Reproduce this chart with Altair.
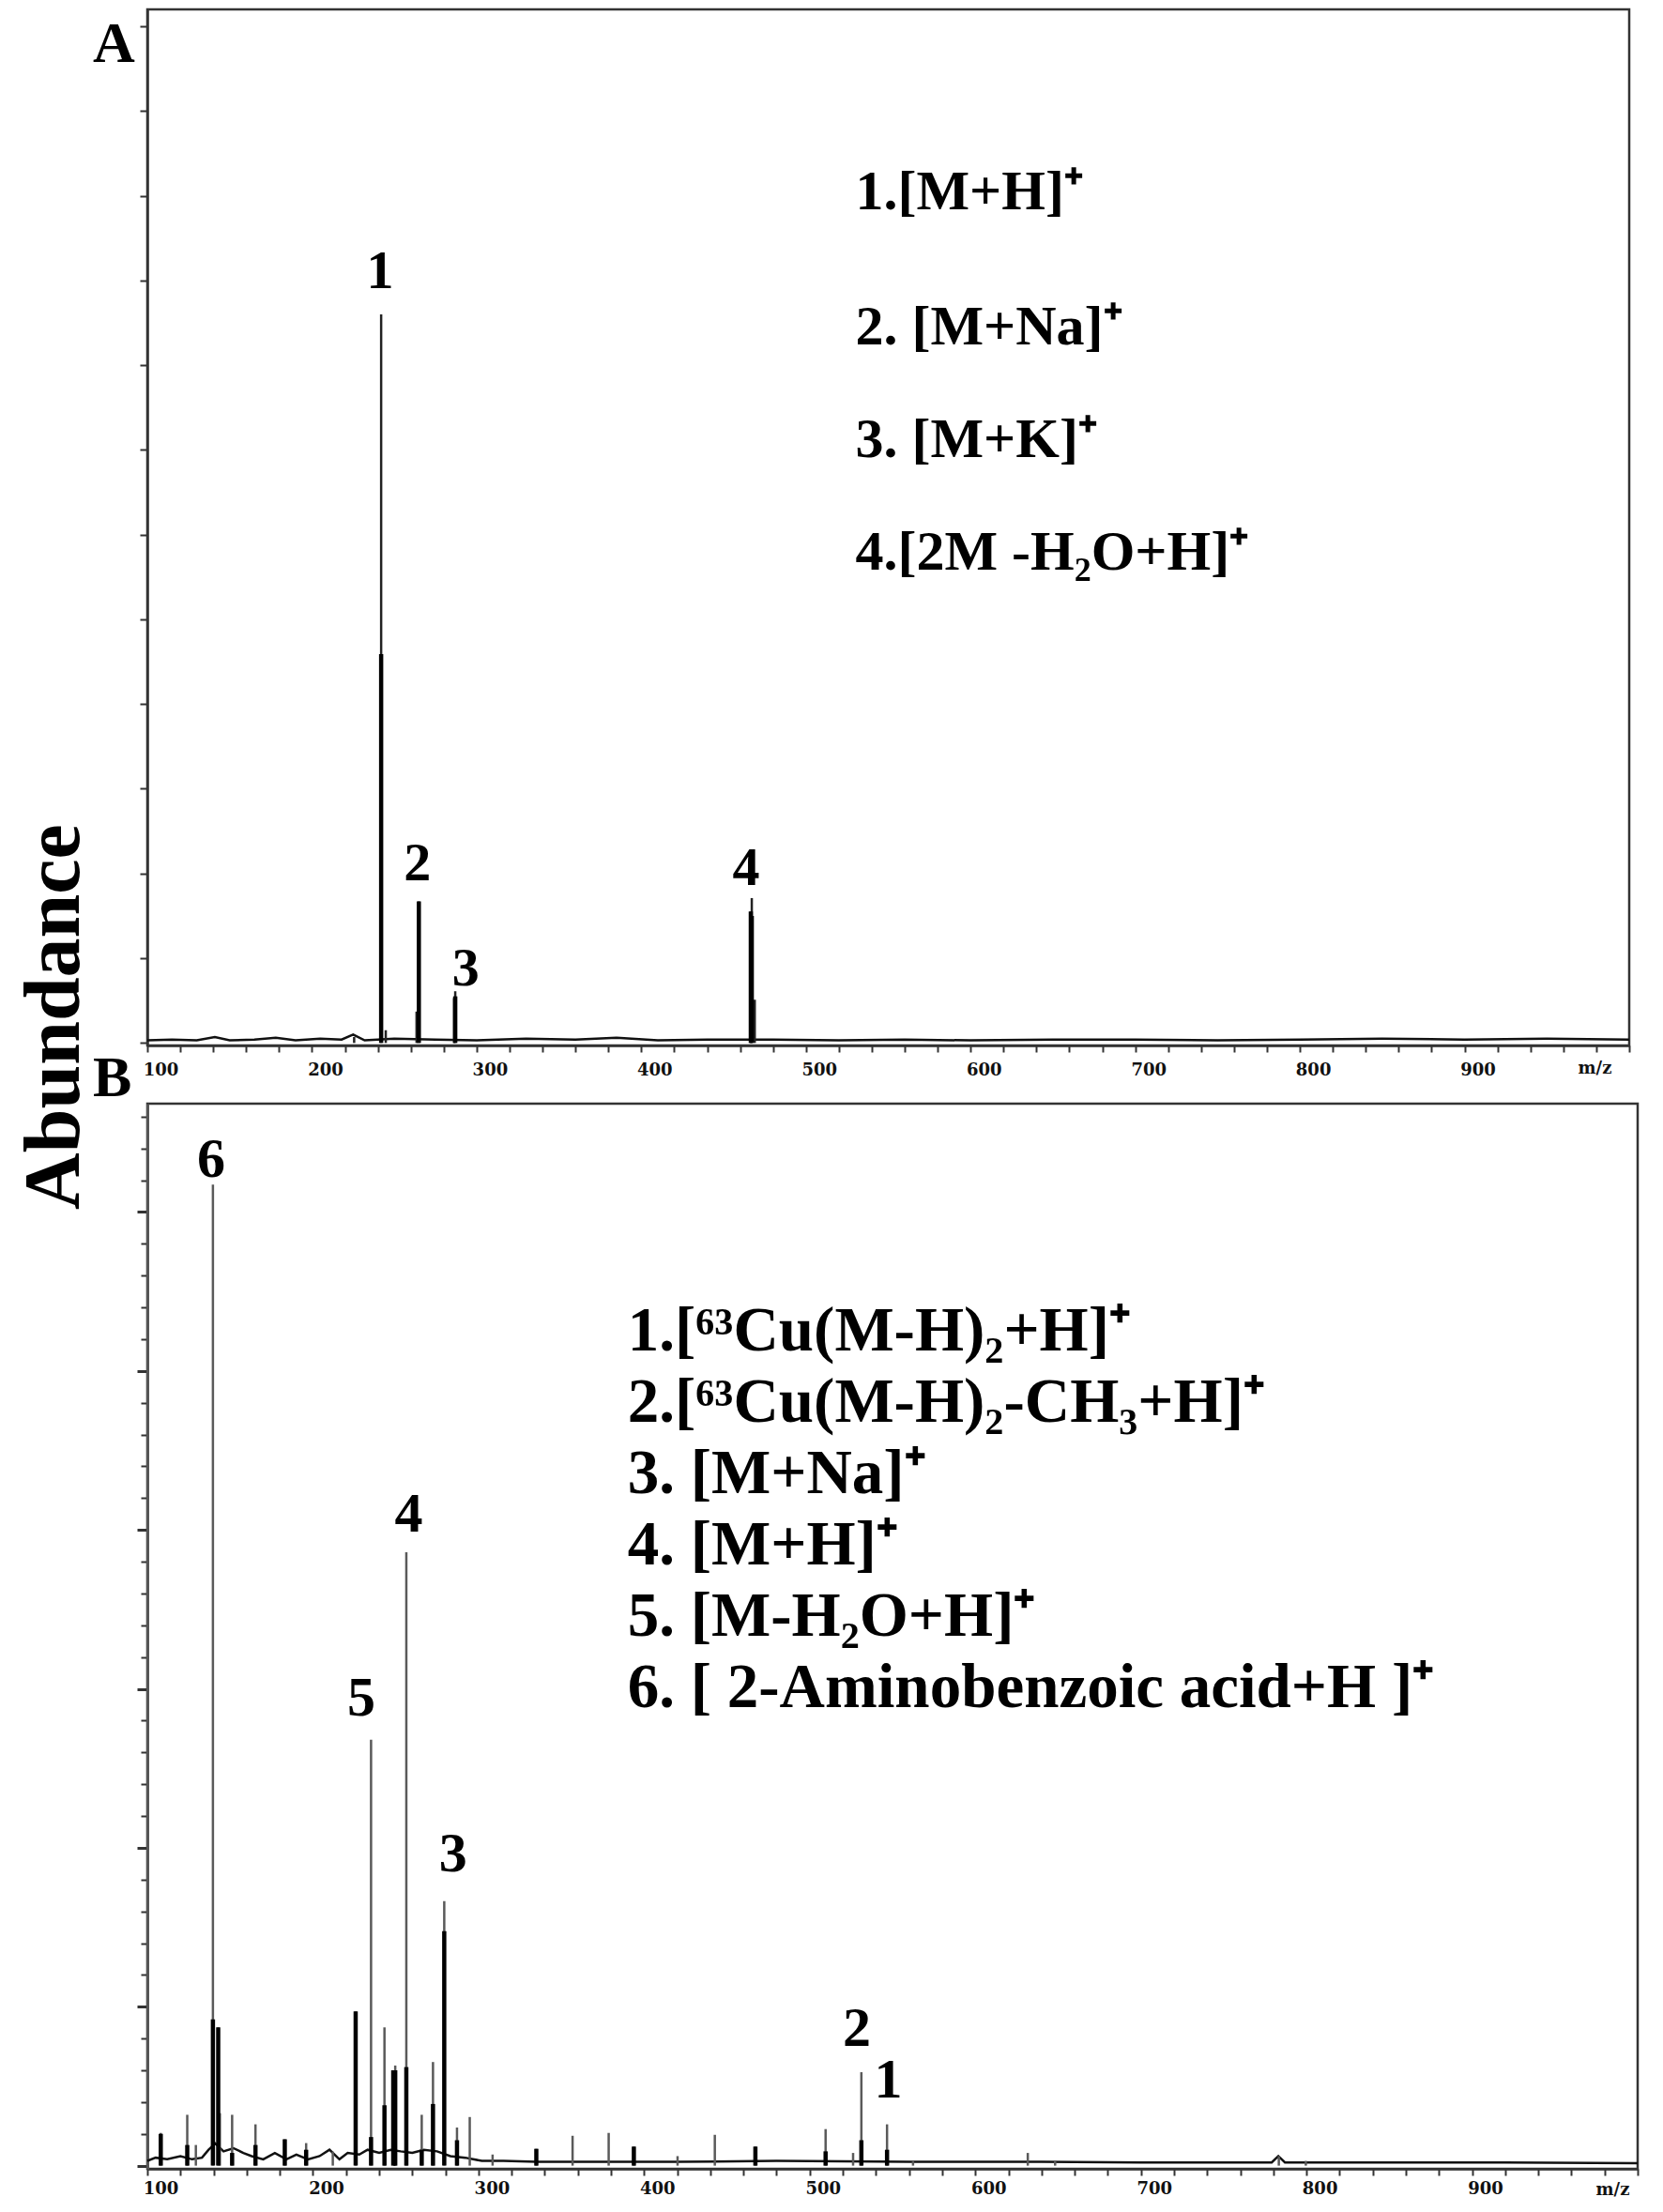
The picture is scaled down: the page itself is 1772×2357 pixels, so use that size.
import altair as alt
import pandas as pd

SERIF = "Liberation Serif"
TICKFONT = "DejaVu Serif"

# ---------------- Panel A data ----------------
a_peak_mz = [225.6, 242.0, 244.8, 263.5, 264.9, 286.3, 287.0, 466.5, 467.1, 468.9]
a_peak_ab = [0.07, 8.60, 0.15, 0.37, 1.67, 0.53, 0.61, 1.55, 1.71, 0.51]
a_core_mz = [242.0, 264.9, 287.0, 466.5, 467.1]
a_core_ab = [4.59, 1.67, 0.55, 1.55, 1.50]
a_base_mz = [100, 115, 130, 141, 150, 165, 178, 190, 205, 218, 225, 232, 250, 275, 300, 330,
             360, 385, 410, 440, 480, 520, 560, 600, 650, 700, 750, 800, 850, 900, 950, 1000]
a_base_ab = [0.03, 0.04, 0.03, 0.07, 0.03, 0.04, 0.06, 0.03, 0.05, 0.04, 0.1, 0.03, 0.05, 0.04, 0.03, 0.05,
             0.04, 0.06, 0.03, 0.04, 0.04, 0.03, 0.04, 0.03, 0.04, 0.04, 0.03, 0.04, 0.05, 0.04, 0.05, 0.04]
a_lab_text = ["1", "2", "3", "4"]
a_lab_mz = [241.4, 264.0, 293.4, 463.7]
a_lab_ab = [8.91, 1.92, 0.68, 1.86]
a_leg_text = ["1.[M+H]⁺", "2. [M+Na]⁺", "3. [M+K]⁺", "4.[2M -H₂O+H]⁺"]
a_leg_mz = [530.0, 530.0, 530.0, 530.0]
a_leg_ab = [9.84, 8.25, 6.92, 5.59]

# ---------------- Panel B data ----------------
b_peak_mz = [108.1, 124.1, 129.3, 139.6, 142.8, 143.8, 151.2, 165.3, 183.0, 195.9, 212.0, 225.8,
             235.1, 243.2, 249.7, 256.4, 265.7, 272.5, 279.3, 287.0, 294.7, 308.5, 334.9, 356.8,
             378.6, 393.8, 420.2, 442.7, 467.2, 509.6, 526.2, 531.2, 546.7, 562.4, 631.7, 648.2,
             783.3, 799.6]
b_peak_ab = [1.03, 1.6, 0.65, 30.86, 4.35, 1.65, 1.6, 1.3, 0.83, 0.71, 0.44, 4.85,
             13.4, 4.35, 3.15, 19.3, 1.6, 3.26, 8.32, 1.2, 1.53, 0.35, 0.53, 0.94,
             1.03, 0.6, 0.3, 0.97, 0.6, 1.15, 0.4, 2.94, 1.3, 0.15, 0.4, 0.15,
             0.3, 0.15]
b_core_mz = [108.1, 124.1, 139.6, 142.8, 151.2, 165.3, 183.0, 195.9, 225.8, 235.1, 243.2, 248.5,
             249.7, 256.4, 265.7, 272.5, 279.3, 287.0, 334.9, 393.8, 467.2, 509.6, 531.2, 546.7]
b_core_ab = [1.0, 0.65, 4.6, 4.35, 0.4, 0.65, 0.83, 0.5, 4.85, 0.9, 1.9, 3.0,
             3.0, 3.1, 0.5, 1.94, 7.38, 0.8, 0.53, 0.6, 0.6, 0.45, 0.8, 0.5]
b_base_mz = [100, 105, 112, 120, 127, 133, 137, 141, 146, 152, 158, 163, 170, 177, 184, 190,
             197, 204, 210, 216, 221, 228, 233, 240, 247, 253, 260, 267, 275, 283, 292, 302,
             315, 335, 370, 420, 480, 560, 640, 700, 760, 779, 783, 787, 850, 920, 1000]
b_base_ab = [0.15, 0.25, 0.2, 0.3, 0.2, 0.25, 0.5, 0.7, 0.45, 0.55, 0.4, 0.3, 0.2, 0.4, 0.2, 0.35,
             0.2, 0.3, 0.5, 0.2, 0.4, 0.35, 0.5, 0.4, 0.5, 0.45, 0.4, 0.5, 0.45, 0.3, 0.25, 0.15,
             0.15, 0.12, 0.12, 0.12, 0.15, 0.12, 0.12, 0.1, 0.1, 0.1, 0.3, 0.1, 0.1, 0.1, 0.08]
b_lab_text = ["6", "5", "4", "3", "2", "1"]
b_lab_mz = [138.5, 229.2, 257.8, 284.6, 528.4, 547.4]
b_lab_ab = [31.1, 14.16, 19.94, 9.26, 3.78, 2.15]
b_leg_text = ["1.[⁶³Cu(M-H)₂+H]⁺", "2.[⁶³Cu(M-H)₂-CH₃+H]⁺", "3. [M+Na]⁺", "4. [M+H]⁺",
              "5. [M-H₂O+H]⁺", "6. [ 2-Aminobenzoic acid+H ]⁺"]
b_leg_mz = [390.0] * 6
b_leg_ab = [25.65, 23.41, 21.17, 18.92, 16.68, 14.43]

x_ticks = list(range(100, 1001, 20))


def x_enc(title_x, title_y, label_pad):
    return alt.X(
        "mz:Q",
        scale=alt.Scale(domain=[100, 1000], nice=False, zero=False),
        axis=alt.Axis(
            values=x_ticks,
            labelExpr="datum.value % 100 === 0 && datum.value < 1000 ? datum.value : ''",
            labelFlush=False, labelOverlap=False, labelBound=False,
            labelOffset=14, labelPadding=label_pad,
            labelFont=TICKFONT, labelFontSize=18, labelFontWeight="bold", labelColor="#111",
            tickSize=7, tickWidth=2, tickColor="#333", domainColor="#333", domainWidth=2.5,
            grid=False,
            title="m/z", titleX=title_x, titleY=title_y, titleAlign="center",
            titleBaseline="alphabetic", titleFont=TICKFONT, titleFontSize=18,
            titleFontWeight="bold", titleColor="#111",
        ),
    )


def panel(peak_mz, peak_ab, core_mz, core_ab, base_mz, base_ab, lab_text, lab_mz, lab_ab,
          leg_text, leg_mz, leg_ab, letter, X, Y, width, height, thin_color, lab_size, leg_size,
          letter_y, letter_baseline):
    peaks = pd.DataFrame({"mz": peak_mz, "ab": peak_ab, "base": 0.0})
    cores = pd.DataFrame({"mz": core_mz, "ab": core_ab, "base": 0.0})
    base = pd.DataFrame({"mz": base_mz, "ab": base_ab})
    labs = pd.DataFrame({"mz": lab_mz, "ab": lab_ab, "t": lab_text})
    legs = pd.DataFrame({"mz": leg_mz, "ab": leg_ab, "t": leg_text})
    let = pd.DataFrame({"t": [letter]})

    baseline = alt.Chart(base).mark_line(color="#111", strokeWidth=2.5).encode(x=X, y=Y)
    thin = alt.Chart(peaks).mark_rule(color=thin_color, strokeWidth=2.5).encode(
        x=X, y=Y, y2="base:Q")
    thick = alt.Chart(cores).mark_rule(color="#000", strokeWidth=4.5).encode(
        x=X, y=Y, y2="base:Q")
    labels = alt.Chart(labs).mark_text(
        font=SERIF, fontSize=lab_size, fontWeight="bold", color="#000",
        align="center", baseline="alphabetic").encode(x=X, y=Y, text="t:N")
    legend = alt.Chart(legs).mark_text(
        font=SERIF, fontSize=leg_size, fontWeight="bold", color="#000",
        align="left", baseline="alphabetic").encode(x=X, y=Y, text="t:N")
    letter_mark = alt.Chart(let).mark_text(
        font=SERIF, fontSize=62, fontWeight="bold", color="#000",
        align="left", baseline=letter_baseline).encode(
        x=alt.value(-58), y=alt.value(letter_y), text="t:N")
    return alt.layer(baseline, thin, thick, labels, legend, letter_mark).properties(
        width=width, height=height,
        view=alt.ViewBackground(stroke="#333", strokeWidth=2.5))


XA = x_enc(1542, 29, 10)
YA = alt.Y(
    "ab:Q",
    scale=alt.Scale(domain=[-0.03, 12.2], nice=False, zero=False),
    axis=alt.Axis(
        values=list(range(0, 13)), labels=False, tickSize=8, tickWidth=2, tickColor="#333",
        domainColor="#333", domainWidth=2.5, grid=False,
        title="Abundance", titleX=-74, titleY=1073, titleAngle=270, titleAlign="center",
        titleBaseline="alphabetic", titleFont=SERIF, titleFontSize=84,
        titleFontWeight="bold", titleColor="#000",
    ),
)

XB = x_enc(1561, 27, 5)
YB = alt.Y(
    "ab:Q",
    scale=alt.Scale(domain=[-0.1, 33.41], nice=False, zero=False),
    axis=alt.Axis(
        values=list(range(0, 34)), labels=False,
        tickSize={"condition": {"test": "datum.value % 5 === 0", "value": 11}, "value": 7},
        tickWidth={"condition": {"test": "datum.value % 5 === 0", "value": 3}, "value": 2},
        tickColor="#333", domainColor="#555", domainWidth=3, grid=False, title=None,
    ),
)

chart_a = panel(a_peak_mz, a_peak_ab, a_core_mz, a_core_ab, a_base_mz, a_base_ab,
                a_lab_text, a_lab_mz, a_lab_ab, a_leg_text, a_leg_mz, a_leg_ab, "A",
                XA, YA, 1579, 1104, "#222", 58, 60, 7, "top")
chart_b = panel(b_peak_mz, b_peak_ab, b_core_mz, b_core_ab, b_base_mz, b_base_ab,
                b_lab_text, b_lab_mz, b_lab_ab, b_leg_text, b_leg_mz, b_leg_ab, "B",
                XB, YB, 1588, 1135, "#5a5a5a", 60, 67, -8, "alphabetic")

chart = alt.vconcat(chart_a, chart_b, spacing=62, bounds="flush").properties(
    padding={"left": 6, "top": 0, "right": 0, "bottom": 0},
    background="white",
)

chart.save("out.html", embed_options={"renderer": "svg", "actions": False})
